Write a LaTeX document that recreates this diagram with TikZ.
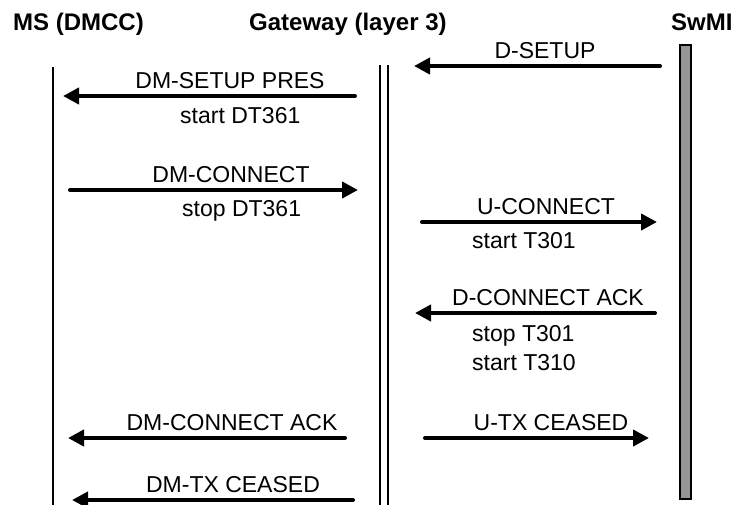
\documentclass[tikz,border=0pt]{standalone}
\usepackage{fontspec}
\setmainfont{Liberation Sans}
\usepackage{tikz}
\usetikzlibrary{arrows.meta}
\definecolor{barfill}{RGB}{150, 150, 150}

\tikzset{
msg/.style = {line width = 4pt, line cap = round, -{Triangle[length = 16pt, width = 16pt]}},
life/.style = {line width = 1.8pt},
lbl/.style = {anchor = base, inner sep = 0pt, font = \fontsize{23}{27}\selectfont},
sublbl/.style = {anchor = base west, inner sep = 0pt, font = \fontsize{23}{27}\selectfont},
head/.style = {anchor = base west, inner sep = 0pt, font = \fontsize{24}{28}\selectfont\bfseries}
}

\begin{document}
\begin{tikzpicture}[x = 1pt, y = -1pt]
\useasboundingbox (0,0) rectangle (733,504);
% entities
\node[head] (ms) at (13,30) {MS (DMCC)};
\node[head] (gw) at (249,30) {Gateway (layer 3)};
\node[head] (swmi) at (671,30) {SwMI};
% life lines
\coordinate (msTop) at (53,67);
\coordinate (msBot) at (53,506);
\coordinate (gwTopA) at (380,65);
\coordinate (gwBotA) at (380,506);
\coordinate (gwTopB) at (388,65);
\coordinate (gwBotB) at (388,506);
\draw[life] (msTop) -- (msBot);
\draw[life] (gwTopA) -- (gwBotA);
\draw[life] (gwTopB) -- (gwBotB);
\draw[line width = 1.5pt, fill = barfill] (680,45) rectangle (691,499);
% messages
\foreach \n/\xa/\xb/\y/\lx/\t in {dsetup/660/414/66/545/D-SETUP,
  dmsetup/355/63/96/230/DM-SETUP PRES,
  dmconn/70/358/190/231/DM-CONNECT,
  uconn/422/657/222/546/U-CONNECT,
  dconnack/655/415/313/548/D-CONNECT ACK,
  dmconnack/345/68/438/232/DM-CONNECT ACK,
  utx/425/649/438/551/U-TX CEASED,
  dmtx/353/72/500/233/DM-TX CEASED}
{
\coordinate (\n-from) at (\xa,\y);
\coordinate (\n-to) at (\xb,\y);
\draw[msg] (\n-from) -- (\n-to);
\node[lbl] (\n-lbl) at (\lx,\y-8) {\t};
}
% timers
\node[sublbl] (startDT) at (180,123) {start DT361};
\node[sublbl] (stopDT) at (182,216) {stop DT361};
\node[sublbl] (startTa) at (472,248) {start T301};
\node[sublbl] (stopTa) at (472,341) {stop T301};
\node[sublbl] (startTb) at (472,370) {start T310};
\end{tikzpicture}
\end{document}
